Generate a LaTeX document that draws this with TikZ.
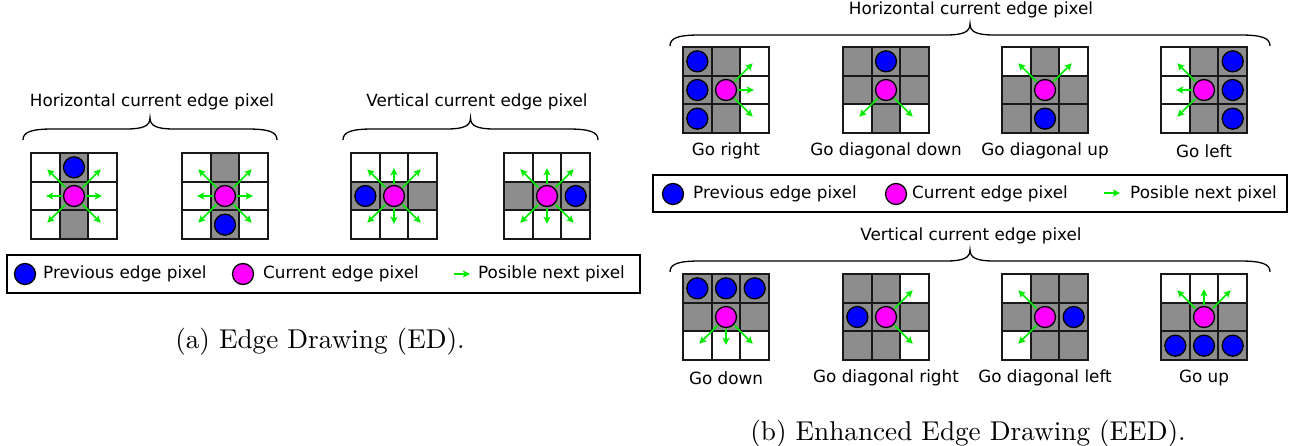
\documentclass[tikz,border=0pt]{standalone}
\usepackage{fontspec}
\usepackage{tikz}
\usetikzlibrary{arrows.meta}
\newfontfamily\dejavu{DejaVu Sans}
\newfontfamily\capfont{lmroman10-regular.otf}
\definecolor{pixgray}{RGB}{141,141,141}
\definecolor{nextgreen}{RGB}{0,235,0}
\definecolor{pxblue}{RGB}{0,0,255}
\definecolor{pxmagenta}{RGB}{255,0,255}
% 3x3 pixel block, gray cells given as col/row
\newcommand{\pixcells}[1]{%
  \foreach \px/\py in {#1} \fill[pixgray] (\px,\py) rectangle ++(1,1);
  \foreach \i in {0,...,3} \draw[gridline] (\i,0) -- (\i,3) (0,\i) -- (3,\i);}
% curly brace: left x, right x, y of the ends
\newcommand{\pixbrace}[3]{%
  \pgfmathsetmacro{\bm}{(#1+#2)/2}
  \draw[bracel] (#1,#3) .. controls (#1,#3-8) and (#1+8,#3-11) .. (#1+30,#3-11)
    -- (\bm-24,#3-11) .. controls (\bm-7,#3-11) and (\bm,#3-14) .. (\bm,#3-22)
    .. controls (\bm,#3-14) and (\bm+7,#3-11) .. (\bm+24,#3-11)
    -- (#2-30,#3-11) .. controls (#2-8,#3-11) and (#2,#3-8) .. (#2,#3);}

\begin{document}
\begin{tikzpicture}[x=1pt,y=-1pt,
  gridline/.style={line width=1.8pt, line cap=rect, black!90},
  cellgrid/.style={x=28.67pt, y=-28.67pt},
  prevpx/.style={circle, draw, line width=1.3pt, fill=pxblue, minimum size=21pt, inner sep=0pt},
  curpx/.style={circle, draw, line width=1.3pt, fill=pxmagenta, minimum size=21pt, inner sep=0pt},
  nextpx/.style={draw=nextgreen, line width=1.7pt, -{Stealth[length=7pt,width=7pt,inset=1.5pt]}, shorten <=1pt},
  bracel/.style={line width=1.3pt},
  legbox/.style={line width=1.5pt},
  txt/.style={font=\dejavu\fontsize{16.8}{19}\selectfont, inner sep=0pt},
  capt/.style={font=\capfont\fontsize{27.2}{32}\selectfont, inner sep=0pt, anchor=base}]
\useasboundingbox (0,0) rectangle (1295,446);

%% (a) ED
\node[txt] (ttlha) at (152,102) {Horizontal current edge pixel};
\node[txt] (ttlva) at (477,102) {Vertical current edge pixel};
\pixbrace{23}{277}{140}
\pixbrace{343}{598}{140}

\begin{scope}[shift={(31,153)},cellgrid]
  \pixcells{1/0,1/1,1/2}
  \node[prevpx] (ha1prev) at (1.5,0.5) {};
  \node[curpx] (ha1cur) at (1.5,1.5) {};
  \foreach \dx/\dy in {.93/-.93,-.93/-.93,.97/0,-.97/0,.93/.93,-.93/.93}
    \draw[nextpx] (ha1cur) -- ++(\dx,\dy);
\end{scope}
\begin{scope}[shift={(182,153)},cellgrid]
  \pixcells{1/0,1/1,1/2}
  \node[prevpx] (ha2prev) at (1.5,2.5) {};
  \node[curpx] (ha2cur) at (1.5,1.5) {};
  \foreach \dx/\dy in {.93/-.93,-.93/-.93,.97/0,-.97/0,.93/.93,-.93/.93}
    \draw[nextpx] (ha2cur) -- ++(\dx,\dy);
\end{scope}
\begin{scope}[shift={(351,153)},cellgrid]
  \pixcells{0/1,1/1,2/1}
  \node[prevpx] (va1prev) at (0.5,1.5) {};
  \node[curpx] (va1cur) at (1.5,1.5) {};
  \foreach \dx/\dy in {.93/-.93,-.93/-.93,0/-.97,0/.97,.93/.93,-.93/.93}
    \draw[nextpx] (va1cur) -- ++(\dx,\dy);
\end{scope}
\begin{scope}[shift={(504,153)},cellgrid]
  \pixcells{0/1,1/1,2/1}
  \node[prevpx] (va2prev) at (2.5,1.5) {};
  \node[curpx] (va2cur) at (1.5,1.5) {};
  \foreach \dx/\dy in {.93/-.93,-.93/-.93,0/-.97,0/.97,.93/.93,-.93/.93}
    \draw[nextpx] (va2cur) -- ++(\dx,\dy);
\end{scope}

\draw[legbox] (7,255) rectangle (640,293);
\node[prevpx] (lgprevA) at (25,274) {};
\node[txt,anchor=west] (lgprevAt) at (43,274) {Previous edge pixel};
\node[curpx] (lgcurA) at (243,274) {};
\node[txt,anchor=west] (lgcurAt) at (263,274) {Current edge pixel};
\coordinate (lgnextA) at (453,274);
\draw[nextpx] (lgnextA) -- ++(17,0);
\node[txt,anchor=west] (lgnextAt) at (478,274) {Posible next pixel};

\node[capt] (capa) at (320,348) {(a) Edge Drawing (ED).};

%% (b) EED
\node[txt] (ttlhb) at (971,10) {Horizontal current edge pixel};
\pixbrace{670}{1270}{46}

\begin{scope}[shift={(683,47)},cellgrid]
  \pixcells{0/0,0/1,0/2,1/0,1/1,1/2}
  \foreach \py in {0,1,2} \node[prevpx] (gr\py) at (0.5,\py+0.5) {};
  \node[curpx] (grcur) at (1.5,1.5) {};
  \foreach \dx/\dy in {.93/-.93,.97/0,.93/.93}
    \draw[nextpx] (grcur) -- ++(\dx,\dy);
  \node[txt] (grlbl) at (1.5,3.62) {Go right};
\end{scope}
\begin{scope}[shift={(843,47)},cellgrid]
  \pixcells{0/0,1/0,2/0,0/1,1/1,2/1,1/2}
  \node[prevpx] (gddprev) at (1.5,0.5) {};
  \node[curpx] (gddcur) at (1.5,1.5) {};
  \foreach \dx/\dy in {-.93/.93,.93/.93}
    \draw[nextpx] (gddcur) -- ++(\dx,\dy);
  \node[txt] (gddlbl) at (1.5,3.62) {Go diagonal down};
\end{scope}
\begin{scope}[shift={(1002,47)},cellgrid]
  \pixcells{1/0,0/1,1/1,2/1,0/2,1/2,2/2}
  \node[prevpx] (gduprev) at (1.5,2.5) {};
  \node[curpx] (gducur) at (1.5,1.5) {};
  \foreach \dx/\dy in {-.93/-.93,.93/-.93}
    \draw[nextpx] (gducur) -- ++(\dx,\dy);
  \node[txt] (gdulbl) at (1.5,3.62) {Go diagonal up};
\end{scope}
\begin{scope}[shift={(1161,47)},cellgrid]
  \pixcells{1/0,1/1,1/2,2/0,2/1,2/2}
  \foreach \py in {0,1,2} \node[prevpx] (gl\py) at (2.5,\py+0.5) {};
  \node[curpx] (glcur) at (1.5,1.5) {};
  \foreach \dx/\dy in {-.93/-.93,-.97/0,-.93/.93}
    \draw[nextpx] (glcur) -- ++(\dx,\dy);
  \node[txt] (gllbl) at (1.5,3.62) {Go left};
\end{scope}

\draw[legbox] (653,175) rectangle (1287,212);
\node[prevpx] (lgprevB) at (673,194) {};
\node[txt,anchor=west] (lgprevBt) at (693,194) {Previous edge pixel};
\node[curpx] (lgcurB) at (896,194) {};
\node[txt,anchor=west] (lgcurBt) at (912,194) {Current edge pixel};
\coordinate (lgnextB) at (1103,193);
\draw[nextpx] (lgnextB) -- ++(17,0);
\node[txt,anchor=west] (lgnextBt) at (1130,194) {Posible next pixel};

\node[txt] (ttlvb) at (971,236) {Vertical current edge pixel};
\pixbrace{670}{1270}{272}

\begin{scope}[shift={(683,274)},cellgrid]
  \pixcells{0/0,1/0,2/0,0/1,1/1,2/1}
  \foreach \px in {0,1,2} \node[prevpx] (gd\px) at (\px+0.5,0.5) {};
  \node[curpx] (gdcur) at (1.5,1.5) {};
  \foreach \dx/\dy in {-.93/.93,0/.97,.93/.93}
    \draw[nextpx] (gdcur) -- ++(\dx,\dy);
  \node[txt] (gdlbl) at (1.5,3.62) {Go down};
\end{scope}
\begin{scope}[shift={(843,274)},cellgrid]
  \pixcells{0/0,1/0,0/1,1/1,2/1,0/2,1/2}
  \node[prevpx] (gdrprev) at (0.5,1.5) {};
  \node[curpx] (gdrcur) at (1.5,1.5) {};
  \foreach \dx/\dy in {.93/-.93,.93/.93}
    \draw[nextpx] (gdrcur) -- ++(\dx,\dy);
  \node[txt] (gdrlbl) at (1.5,3.62) {Go diagonal right};
\end{scope}
\begin{scope}[shift={(1002,274)},cellgrid]
  \pixcells{1/0,2/0,0/1,1/1,2/1,1/2,2/2}
  \node[prevpx] (gdlprev) at (2.5,1.5) {};
  \node[curpx] (gdlcur) at (1.5,1.5) {};
  \foreach \dx/\dy in {-.93/-.93,-.93/.93}
    \draw[nextpx] (gdlcur) -- ++(\dx,\dy);
  \node[txt] (gdllbl) at (1.5,3.62) {Go diagonal left};
\end{scope}
\begin{scope}[shift={(1161,274)},cellgrid]
  \pixcells{0/1,1/1,2/1,0/2,1/2,2/2}
  \foreach \px in {0,1,2} \node[prevpx] (gu\px) at (\px+0.5,2.5) {};
  \node[curpx] (gucur) at (1.5,1.5) {};
  \foreach \dx/\dy in {-.93/-.93,0/-.97,.93/-.93}
    \draw[nextpx] (gucur) -- ++(\dx,\dy);
  \node[txt] (gulbl) at (1.5,3.62) {Go up};
\end{scope}

\node[capt] (capb) at (968,440) {(b) Enhanced Edge Drawing (EED).};
\end{tikzpicture}
\end{document}
